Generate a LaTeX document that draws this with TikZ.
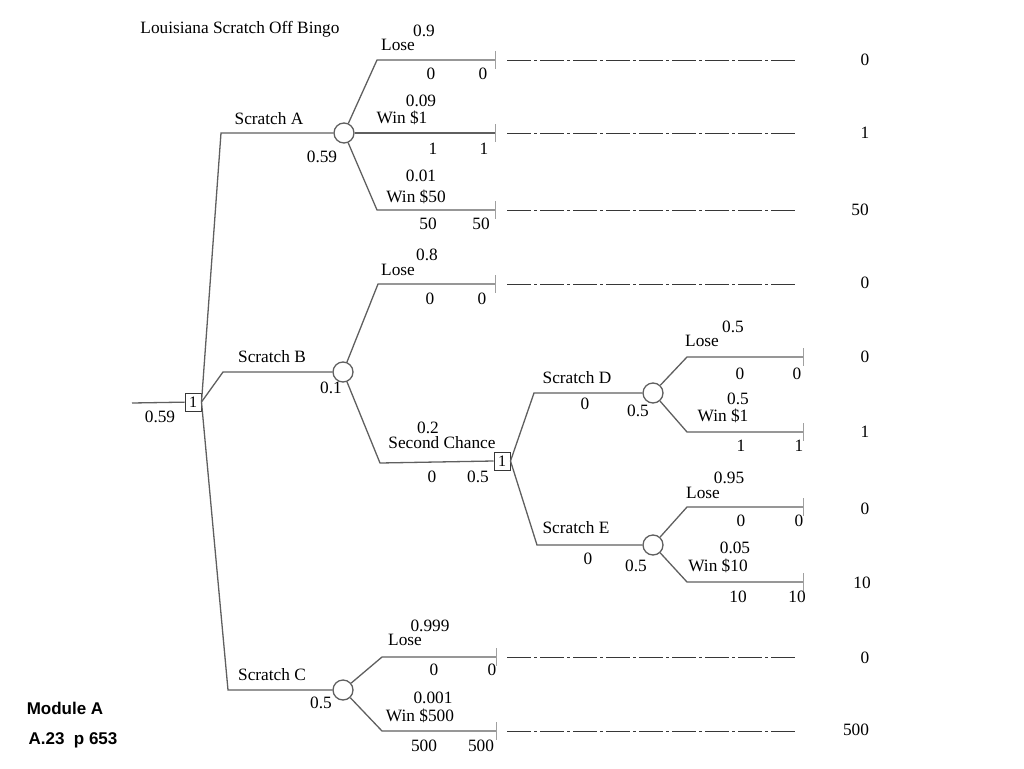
\documentclass[tikz,border=0pt]{standalone}
\usepackage{fontspec}
\setmainfont{Liberation Serif}
\newfontfamily\notesans{Liberation Sans}
\usetikzlibrary{arrows.meta}
\definecolor{gray1}{RGB}{95, 95, 95}
\definecolor{gray2}{RGB}{160, 160, 160}
\definecolor{gray3}{RGB}{55, 55, 55}

\begin{document}
\begin{tikzpicture}[x=1pt, y=-1pt, line width=1.3pt, font=\fontsize{17.3}{19}\selectfont]
  \tikzset{chance/.style={circle, draw=gray1, fill=white, minimum size=20pt, inner sep=0pt},
           decision/.style={rectangle, draw=gray3, fill=white, minimum width=16pt, minimum height=18pt,
                            inner sep=0pt, line width=1pt, font=\fontsize{16}{16}\selectfont},
           branch/.style={draw=gray1},
           endtick/.style={-{Bar[width=18pt, line width=1.2pt, color=gray2]}},
           payoff/.style={draw=gray3, line width=1pt, dash pattern=on 24pt off 3pt on 3pt off 3pt}}
  \useasboundingbox (0,0) rectangle (1024,768);
  % decision and chance nodes
  \coordinate (root) at (132,403);
  \node[decision] (d1) at (193,402) {1};
  \node[chance] (cA) at (344,133) {};
  \node[chance] (cB) at (343,372) {};
  \node[chance] (cC) at (343,690) {};
  \node[decision] (d2) at (502,461) {1};
  \node[chance] (cD) at (653,393) {};
  \node[chance] (cE) at (653,545) {};
  % corners
  \coordinate (kA) at (221,133);
  \coordinate (kB) at (223,372);
  \coordinate (kC) at (228,690);
  \coordinate (kBc) at (380,463);
  \coordinate (kD) at (534,393);
  \coordinate (kE) at (537,545);
  \coordinate (kA1) at (377,60);
  \coordinate (kA3) at (377,210);
  \coordinate (kB1) at (378,284);
  \coordinate (kD1) at (687,357);
  \coordinate (kD2) at (687,432);
  \coordinate (kE1) at (687,507);
  \coordinate (kE2) at (687,582);
  \coordinate (kC1) at (382,657);
  \coordinate (kC2) at (382,731);
  % end points
  \coordinate (tA1) at (496,60);
  \coordinate (tA2) at (496,133);
  \coordinate (tA3) at (496,210);
  \coordinate (tB1) at (496,284);
  \coordinate (tD1) at (804,357);
  \coordinate (tD2) at (804,432);
  \coordinate (tE1) at (804,507);
  \coordinate (tE2) at (804,582);
  \coordinate (tC1) at (497,657);
  \coordinate (tC2) at (497,731);

  \draw[branch] (root) -- (d1);
  \foreach \from/\via/\to in {d1.east/kA/cA, d1.east/kB/cB, d1.east/kC/cC, cB/kBc/d2.west,
                              d2.east/kD/cD, d2.east/kE/cE}
   \draw[branch] (\from) -- (\via) -- (\to);
  \foreach \from/\via/\to in {cA/kA1/tA1, cA/kA3/tA3, cB/kB1/tB1, cD/kD1/tD1, cD/kD2/tD2,
                              cE/kE1/tE1, cE/kE2/tE2, cC/kC1/tC1, cC/kC2/tC2}
   \draw[branch,endtick] (\from) -- (\via) -- (\to);
  \draw[branch,endtick] (cA) -- (tA2);
  % dash-dot lines to the payoffs
  \foreach \n/\y in {A1/60, A2/133, A3/210, B1/284, C1/657, C2/731} {
    \coordinate (s\n) at (507,\y);
    \coordinate (e\n) at (796,\y);
    \draw[payoff] (s\n) -- (e\n);
  }
  \foreach \n/\x/\y/\v in {A1/865/60/0, A2/865/133/1, A3/860/210/50, B1/865/283/0, D1/865/357/0,
                           D2/865/432/1, E1/865/509/0, E2/862/583/10, C1/865/658/0, C2/856/730/500}
   \node (v\n) at (\x,\y) {\v};

  \node (title) at (240,29) {Louisiana Scratch Off Bingo};
  \node (p0) at (160,417) {0.59};
  % branch labels
  \foreach \x/\y/\t [count=\i] in {
     269/119/{Scratch A}, 322/157/{0.59},
     424/31/{0.9}, 398/45/{Lose}, 431/74/{0}, 483/74/{0},
     421/101/{0.09}, 402/118/{Win \$1}, 433/149/{1}, 484/149/{1},
     421/176/{0.01}, 416/197/{Win \$50}, 428/224/{50}, 481/224/{50},
     272/357/{Scratch B}, 331/388/{0.1},
     427/255/{0.8}, 398/270/{Lose}, 430/299/{0}, 482/299/{0},
     428/428/{0.2}, 442/443/{Second Chance}, 432/477/{0}, 478/477/{0.5},
     577/378/{Scratch D}, 585/404/{0}, 638/411/{0.5},
     576/528/{Scratch E}, 588/559/{0}, 636/566/{0.5},
     733/327/{0.5}, 702/341/{Lose}, 740/374/{0}, 797/374/{0},
     738/399/{0.5}, 723/416/{Win \$1}, 741/446/{1}, 799/446/{1},
     729/478/{0.95}, 703/493/{Lose}, 741/521/{0}, 799/521/{0},
     735/548/{0.05}, 718/566/{Win \$10}, 738/597/{10}, 797/597/{10},
     272/675/{Scratch C}, 321/703/{0.5},
     430/626/{0.999}, 405/640/{Lose}, 434/670/{0}, 492/670/{0},
     433/698/{0.001}, 420/716/{Win \$500}, 424/746/{500}, 481/746/{500}}
   \node[inner sep=0pt] (lab\i) at (\x,\y) {\t};

  \node[font=\notesans\bfseries\fontsize{17}{19}\selectfont] (module) at (65,708) {Module A};
  \node[font=\notesans\bfseries\fontsize{17}{19}\selectfont] (page) at (73,740) {A.23\ \ p 653};
\end{tikzpicture}
\end{document}
